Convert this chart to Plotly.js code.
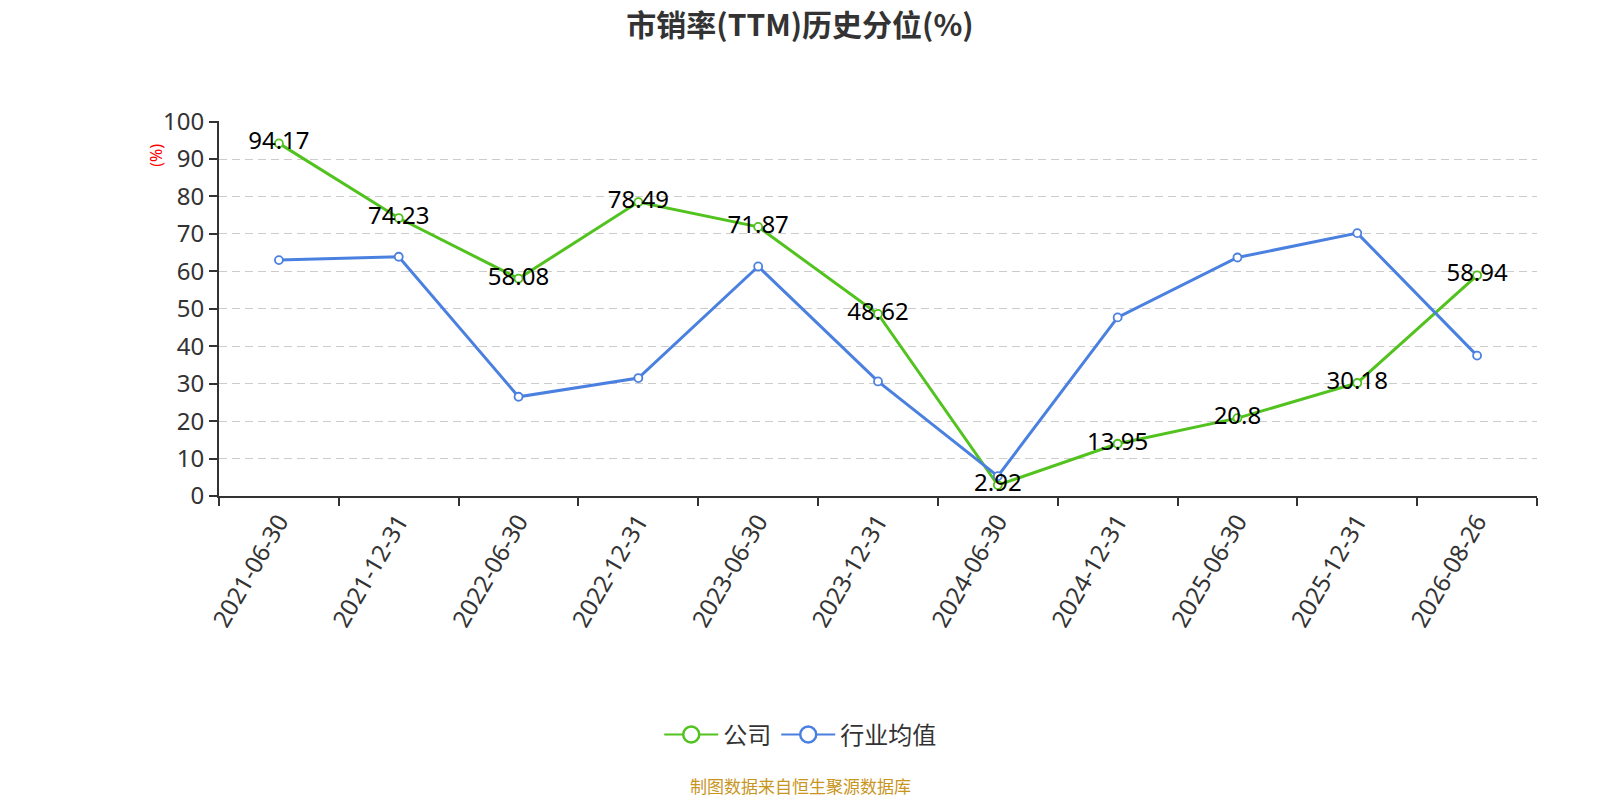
<!DOCTYPE html>
<html>
<head>
<meta charset="utf-8">
<script src="https://cdn.plot.ly/plotly-3.0.1.min.js"></script>
<style>
  html, body { margin: 0; padding: 0; background: #fff; }
  #chart { width: 1600px; height: 800px; }
</style>
</head>
<body>
<div id="chart"></div>
<script>
const dates = [
  "2021-06-30", "2021-12-31", "2022-06-30", "2022-12-31", "2023-06-30", "2023-12-31",
  "2024-06-30", "2024-12-31", "2025-06-30", "2025-12-31", "2026-08-26"
];
const companyValues = [94.17, 74.23, 58.08, 78.49, 71.87, 48.62, 2.92, 13.95, 20.8, 30.18, 58.94];
const industryValues = [63.0, 63.9, 26.5, 31.5, 61.3, 30.6, 5.3, 47.7, 63.7, 70.2, 37.5];
const yTicks = [0, 10, 20, 30, 40, 50, 60, 70, 80, 90, 100];

const FONT = '"Noto Sans", "Noto Sans CJK SC", sans-serif';
const CJK_FONT = '"Noto Sans CJK SC", "Noto Sans", sans-serif';
const GREEN = "#52c21f";
const BLUE = "#4a80e0";

function lineTrace(name, values, color) {
  return {
    x: dates,
    y: values,
    name,
    legendgroup: name,
    showlegend: false,
    type: "scatter",
    mode: "lines+markers",
    line: { color, width: 3 },
    marker: { symbol: "circle", size: 8, color: "#fff", line: { color, width: 1.8 } },
    hoverinfo: "x+y+name",
  };
}

// legend entries only (bigger symbol than the chart markers, like the original)
function legendTrace(name, color) {
  return {
    x: [null],
    y: [null],
    name,
    legendgroup: name,
    type: "scatter",
    mode: "lines+markers",
    line: { color, width: 2 },
    marker: { symbol: "circle", size: 18, color: "#fff", line: { color, width: 2.5 } },
    hoverinfo: "skip",
  };
}

const traces = [
  lineTrace("公司", companyValues, GREEN),
  lineTrace("行业均值", industryValues, BLUE),
  // value labels for the company line, kept on top of both lines
  {
    x: dates,
    y: companyValues,
    type: "scatter",
    mode: "text",
    text: companyValues.map(String),
    textposition: "middle center",
    textfont: { family: FONT, size: 24, color: "#000" },
    showlegend: false,
    hoverinfo: "skip",
  },
  legendTrace("公司", GREEN),
  legendTrace("行业均值", BLUE),
];

const layout = {
  width: 1600,
  height: 800,
  paper_bgcolor: "#fff",
  plot_bgcolor: "#fff",
  font: { family: FONT, color: "#333" },
  margin: { l: 219, r: 63, t: 121, b: 304 },
  title: {
    text: "<b>市销率(TTM)历史分位(%)</b>",
    font: { family: CJK_FONT, size: 30, color: "#333" },
    x: 0.5,
    xanchor: "center",
    y: 0.968,
    yanchor: "middle",
  },
  xaxis: {
    type: "category",
    range: [-0.5, dates.length - 0.5],
    tickson: "boundaries",
    ticks: "outside",
    ticklen: 8,
    tickwidth: 1.5,
    tickcolor: "#333",
    tickangle: -60,
    tickfont: { family: FONT, size: 24, color: "#333" },
    showline: true,
    linecolor: "#333",
    linewidth: 2,
    showgrid: false,
    zeroline: false,
    fixedrange: true,
  },
  yaxis: {
    range: [0, 100.15],
    tickvals: yTicks,
    ticks: "outside",
    ticklen: 8,
    tickwidth: 1.5,
    tickcolor: "#333",
    tickfont: { family: FONT, size: 24, color: "#333" },
    showline: true,
    linecolor: "#333",
    linewidth: 2,
    showgrid: true,
    gridcolor: "#cccccc",
    griddash: "8px,5px",
    gridwidth: 1.3,
    zeroline: false,
    fixedrange: true,
  },
  legend: {
    orientation: "h",
    x: 0.441,
    xanchor: "center",
    y: -0.637,
    yanchor: "middle",
    font: { family: CJK_FONT, size: 24, color: "#333" },
    itemwidth: 54,
  },
  annotations: [
    {
      text: "(%)",
      xref: "paper",
      yref: "paper",
      x: -0.048,
      xanchor: "center",
      y: 0.909,
      yanchor: "middle",
      textangle: -90,
      showarrow: false,
      font: { family: FONT, size: 16, color: "#ff0000" },
    },
    {
      text: "制图数据来自恒生聚源数据库",
      xref: "paper",
      yref: "paper",
      x: 0.441,
      xanchor: "center",
      y: -0.772,
      yanchor: "middle",
      showarrow: false,
      font: { family: CJK_FONT, size: 17, color: "#c8951e" },
    },
  ],
  hovermode: "closest",
};

Plotly.newPlot("chart", traces, layout, { displayModeBar: false });
</script>
</body>
</html>
